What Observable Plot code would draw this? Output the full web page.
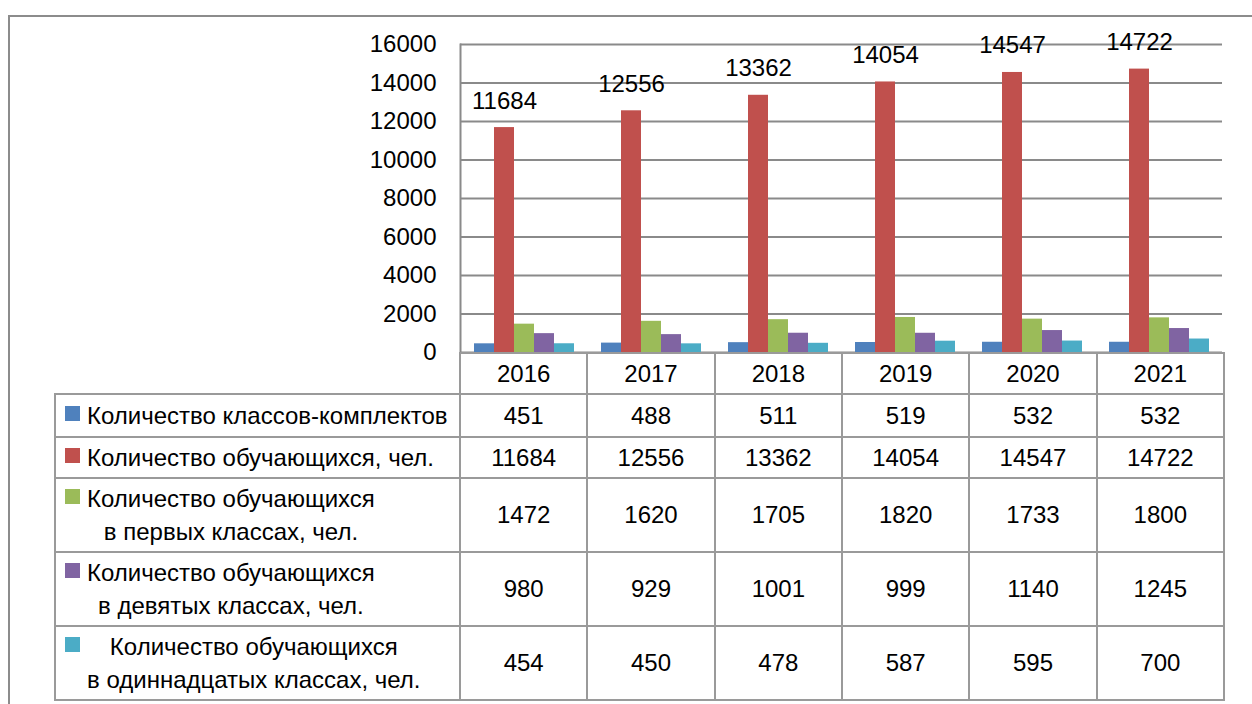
<!DOCTYPE html>
<html><head><meta charset="utf-8">
<script src="https://cdn.jsdelivr.net/npm/d3@7"></script>
<script src="https://cdn.jsdelivr.net/npm/@observablehq/plot@0.6"></script>
<style>
body{margin:0;background:#fff;font-family:"Liberation Sans",Arial,sans-serif;color:#000;}
#wrap{position:relative;width:1252px;height:704px;overflow:hidden;background:#fff;}
#frame{position:absolute;left:8px;top:15px;width:1400px;height:900px;border:2px solid #8c8c8c;box-sizing:border-box;}
#chart{position:absolute;left:0;top:0;}
#chart svg{background:transparent;}
#tbl{position:absolute;left:54px;top:352px;border-collapse:collapse;table-layout:fixed;width:1169px;font-size:24px;}
#tbl td{border:2px solid #9a9a9a;text-align:center;vertical-align:middle;padding:0;white-space:nowrap;}
#tbl td.blank{border:none;}
#tbl td.lab{text-align:left;padding-left:9px;}
.sw{display:inline-block;width:15px;height:15px;vertical-align:top;margin-top:7px;margin-right:7px;}
.txt{display:inline-block;text-align:center;vertical-align:top;line-height:33px;}
</style>
</head><body>
<div id="wrap">
  <div id="frame"></div>
  <div id="chart"></div>
  <table id="tbl"></table>
</div>
<script>
const years = ["2016", "2017", "2018", "2019", "2020", "2021"];
const seriesNames = [
  "Количество классов-комплектов",
  "Количество обучающихся, чел.",
  "Количество обучающихся в первых классах, чел.",
  "Количество обучающихся в девятых классах, чел.",
  "Количество обучающихся в одиннадцатых классах, чел."
];
const seriesLines = [
  ["Количество классов-комплектов"],
  ["Количество обучающихся, чел."],
  ["Количество обучающихся", "в первых классах, чел."],
  ["Количество обучающихся", "в девятых классах, чел."],
  ["Количество обучающихся", "в одиннадцатых классах, чел."]
];
const classesCount = [451, 488, 511, 519, 532, 532];
const studentsCount = [11684, 12556, 13362, 14054, 14547, 14722];
const firstGradeCount = [1472, 1620, 1705, 1820, 1733, 1800];
const ninthGradeCount = [980, 929, 1001, 999, 1140, 1245];
const eleventhGradeCount = [454, 450, 478, 587, 595, 700];
const seriesColors = ["#4F81BD", "#C0504D", "#9BBB59", "#8064A2", "#4BACC6"];
const yTicks = [0, 2000, 4000, 6000, 8000, 10000, 12000, 14000, 16000];

const seriesValues = [classesCount, studentsCount, firstGradeCount, ninthGradeCount, eleventhGradeCount];
const rows = years.flatMap((yr, i) => seriesNames.map((s, j) => ({year: yr, series: s, value: seriesValues[j][i]})));

const font = '"Liberation Sans", Arial, sans-serif';
const chart = Plot.plot({
  width: 1252,
  height: 372,
  marginLeft: 459,
  marginRight: 29,
  marginTop: 44,
  marginBottom: 20,
  style: {fontSize: "24px", fontFamily: font, color: "#000", background: "transparent"},
  fx: {domain: years, padding: 0, axis: null},
  x: {domain: seriesNames, paddingInner: 0, paddingOuter: 0.675, axis: null},
  y: {domain: [0, 16000], axis: null},
  color: {domain: seriesNames, range: seriesColors},
  marks: [
    Plot.gridY(yTicks, {stroke: "#8a8a8a", strokeOpacity: 1, strokeWidth: 2}),
    Plot.axisY(yTicks, {tickSize: 0, tickPadding: 24, fontSize: 24, label: null, tickFormat: d => String(d)}),
    Plot.barY(rows, {fx: "year", x: "series", y: "value", fill: "series"}),
    Plot.text(rows.filter(d => d.series === seriesNames[1]), {
      fx: "year", x: "series", y: "value", text: d => String(d.value), dy: -19, lineAnchor: "bottom", fontSize: 24, fill: "#000"
    }),
    Plot.frame({anchor: "left", facet: "super", stroke: "#8a8a8a", strokeWidth: 2})
  ]
});
document.getElementById("chart").appendChild(chart);

// data table below the chart
const tbl = d3.select("#tbl");
const cg = tbl.append("colgroup");
cg.append("col").style("width", "405px");
years.forEach(() => cg.append("col").style("width", "127.33px"));
const hdr = tbl.append("tr").style("height", "41px");
hdr.append("td").attr("class", "blank");
years.forEach(y => hdr.append("td").text(y));
const rowHeights = ["43px", "41px", "74px", "74px", "74px"];
seriesNames.forEach((s, j) => {
  const tr = tbl.append("tr").style("height", rowHeights[j]);
  const lab = tr.append("td").attr("class", "lab");
  lab.append("span").attr("class", "sw").style("background", seriesColors[j]);
  lab.append("span").attr("class", "txt").html(seriesLines[j].join("<br>"));
  seriesValues[j].forEach(v => tr.append("td").text(String(v)));
});
</script>
</body></html>
